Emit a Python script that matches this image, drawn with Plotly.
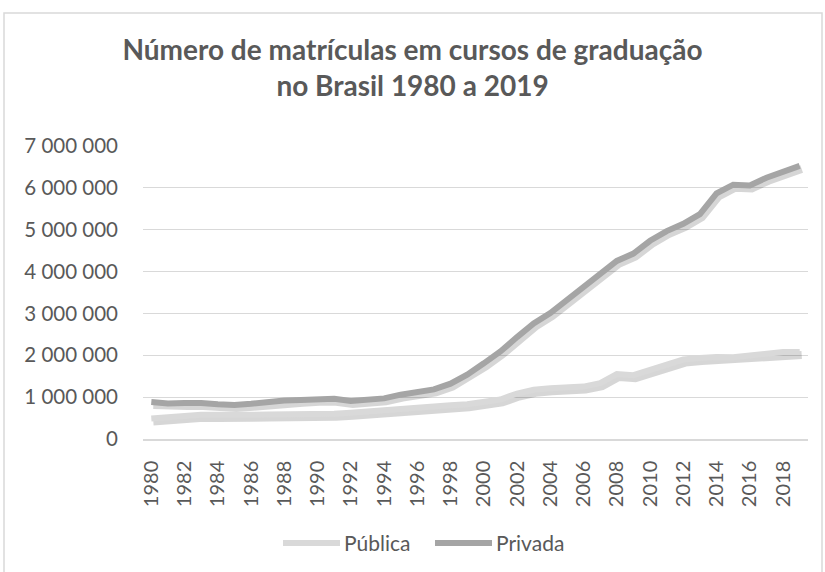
import plotly.graph_objects as go

# ---------------- data ----------------
years = list(range(1980, 2020))
publica = [492232, 535810, 548388, 576689, 571879, 556680, 577632, 584965, 585351, 584414,
           578625, 605736, 629662, 653516, 690450, 700540, 735427, 759182, 804729, 832022,
           887026, 944584, 1085977, 1176174, 1214317, 1246704, 1251365, 1335177, 1552953, 1523864,
           1643298, 1773315, 1897376, 1932527, 1961002, 1952145, 1990078, 2045356, 2077481, 2080146]
privada = [885054, 850982, 859599, 862303, 827660, 810929, 840564, 885590, 918204, 934490,
           961455, 959320, 906126, 941152, 970584, 1059163, 1133102, 1186433, 1321229, 1537923,
           1807219, 2091529, 2434650, 2760759, 3009027, 3321094, 3632487, 3914970, 4255064, 4430157,
           4736001, 4966374, 5140312, 5373450, 5867011, 6075152, 6058623, 6241307, 6373274, 6523678]
series_names = ["Pública", "Privada"]
series_colors = ["#D9D9D9", "#A5A5A5"]
x_tick_years = list(range(1980, 2019, 2))
x_tick_labels = [str(y) for y in x_tick_years]
y_tick_values = [0, 1000000, 2000000, 3000000, 4000000, 5000000, 6000000, 7000000]
y_tick_labels = ["0", "1 000 000", "2 000 000", "3 000 000", "4 000 000",
                 "5 000 000", "6 000 000", "7 000 000"]
title_text = "Número de matrículas em cursos de graduação<br>no Brasil 1980 a 2019"

# ---------------- layout geometry ----------------
W, H = 825, 572
L, R, T, B = 143, 17, 146, 133
pw, ph = W - L - R, H - T - B
x_range = [1979.5, 2019.5]
y_range = [0, 7000000]
sdx, sdy = 2, 3  # shadow offset in px
xs = (x_range[1] - x_range[0]) / pw * sdx
ys = (y_range[1] - y_range[0]) / ph * sdy

FONT = "Lato"
GREY = "#595959"


def px_x(p):
    return (p - L) / pw


def px_y(p):
    return (H - B - p) / ph


fig = go.Figure()

# soft shadows (base axes, shifted range)
for vals in (publica, privada):
    fig.add_trace(go.Scatter(x=years, y=vals, mode="lines",
                             line=dict(color="rgba(0,0,0,0.16)", width=8),
                             hoverinfo="skip", showlegend=False,
                             xaxis="x", yaxis="y"))

for name, vals, col in zip(series_names, (publica, privada), series_colors):
    fig.add_trace(go.Scatter(x=years, y=vals, name=name, mode="lines",
                             line=dict(color=col, width=6),
                             showlegend=False, xaxis="x2", yaxis="y2"))

# custom legend (long thick sample lines like the original)
legend_shapes = []
legend_annots = []
legend_line_x = [(283, 340), (435, 492)]
legend_y = 543
for (x0, x1), name, col in zip(legend_line_x, series_names, series_colors):
    legend_shapes.append(dict(type="line", xref="paper", yref="paper",
                              x0=px_x(x0), x1=px_x(x1), y0=px_y(legend_y), y1=px_y(legend_y),
                              line=dict(color=col, width=6)))
    legend_annots.append(dict(text=name, xref="paper", yref="paper",
                              x=px_x(x1 + 2), y=px_y(legend_y - 1), xanchor="left", yanchor="middle",
                              showarrow=False, font=dict(family=FONT, size=21, color=GREY)))

border = dict(type="rect", xref="paper", yref="paper",
              x0=px_x(4), x1=px_x(822), y0=px_y(580), y1=px_y(13),
              line=dict(color="#D9D9D9", width=1.5), layer="below")

fig.update_layout(
    width=W, height=H,
    margin=dict(l=L, r=R, t=T, b=B),
    paper_bgcolor="white", plot_bgcolor="white",
    font=dict(family=FONT, color=GREY, size=20),
    title=dict(text=title_text, x=0.5, xref="container", xanchor="center",
               y=1 - 60 / H, yref="container", yanchor="middle",
               font=dict(family=FONT, size=28, color=GREY, weight="bold")),
    xaxis=dict(range=[x_range[0] - xs, x_range[1] - xs], visible=False, fixedrange=True),
    yaxis=dict(range=[y_range[0] + ys, y_range[1] + ys], visible=False, fixedrange=True),
    xaxis2=dict(range=x_range, overlaying="x", anchor="y2", tickmode="array",
                tickvals=x_tick_years, ticktext=x_tick_labels, tickangle=-90,
                showgrid=False, zeroline=False, showline=True,
                linecolor="#D9D9D9", linewidth=1.5, ticks="",
                ticklabelstandoff=12, tickfont=dict(size=20, color=GREY)),
    yaxis2=dict(range=y_range, overlaying="y", anchor="x2", tickmode="array",
                tickvals=y_tick_values, ticktext=y_tick_labels,
                showgrid=True, gridcolor="#D9D9D9", gridwidth=1.3,
                zeroline=False, showline=False, ticks="",
                ticklabelstandoff=24, tickfont=dict(size=20.5, color=GREY)),
    shapes=[border] + legend_shapes,
    annotations=legend_annots,
    showlegend=False,
)

fig.write_html("out.html", config={"displayModeBar": False},
               post_script="document.body.style.margin='0';")
